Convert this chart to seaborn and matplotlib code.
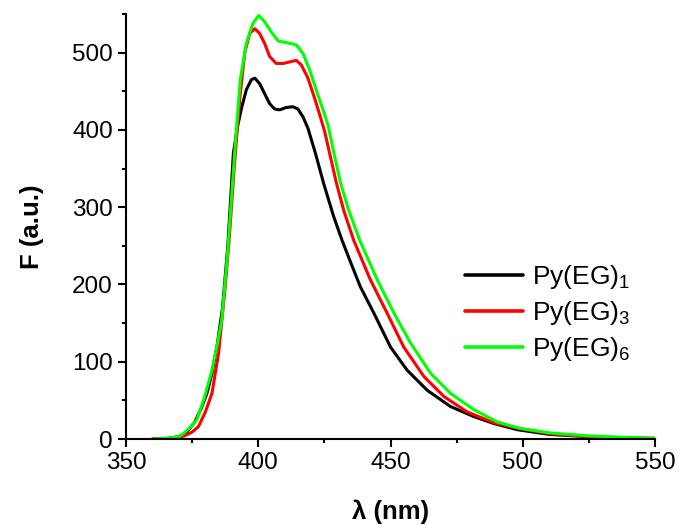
import matplotlib
matplotlib.use("Agg")
import matplotlib.pyplot as plt
from matplotlib.ticker import MultipleLocator
import pandas as pd
import seaborn as sns

# Emission spectra (wavelength in nm, fluorescence intensity in a.u.)
wl_eg1 = [360, 366, 370, 373, 376, 378.5, 380.6, 382.5, 384.5, 386.5, 388.5,
          390.6, 392.2, 393.8, 395.5, 397.4, 398.7, 400.5, 402.4, 404.3, 406.2,
          408.1, 410.6, 413.1, 415.0, 416.9, 418.8, 421.6, 424.7, 428.5, 431.7,
          435, 438.6, 443.7, 450, 456.3, 463.9, 472.7, 481.5, 489.1, 498,
          510, 525, 540, 550]
f_eg1 = [0, 1, 3, 9, 22, 40, 59, 85, 122, 170, 250,
         370, 405, 430, 452, 465, 467, 460, 447, 434, 427,
         426, 429, 430, 427, 417, 402, 370, 331, 288, 257,
         228, 197, 163, 119, 89, 63, 42, 29, 20, 12,
         6, 3, 1, 0.5]

wl_eg3 = [360, 365, 369, 372, 375, 377.4, 380, 382.5, 385, 387.5, 389,
          391, 393, 394.9, 396.8, 398.7, 400.5, 402.4, 404.3, 406.8, 409.4,
          411.9, 414.4, 416.3, 418.8, 421.4, 423.2, 425.1, 427.3, 429.5, 432.3,
          436.1, 442.4, 448.7, 455, 462.6, 470.2, 479, 489.1, 498, 510,
          525, 540, 550]
f_eg3 = [0, 0.3, 1, 4, 9, 16, 35, 59, 111, 197, 258,
         355, 440, 500, 525, 531, 525, 512, 495, 486, 486,
         488, 490, 484, 467, 440, 420, 398, 365, 332, 296,
         257, 206, 163, 119, 81, 55, 35, 21, 14, 7,
         3, 1.5, 1]

wl_eg6 = [360, 366, 370, 371.7, 374, 376.8, 379.5, 382.5, 384.5, 386.2, 388.4,
          390, 391.5, 393.2, 395.5, 398.0, 400.2, 402.4, 404.9, 407.5, 410.6,
          414.4, 416.9, 419.4, 421.9, 424.5, 426.4, 428.5, 431, 434.2, 438.4,
          445, 451.3, 457.6, 465.2, 472.7, 481.5, 490.4, 498.6, 510, 525,
          540, 550]
f_eg6 = [0, 1, 3, 7, 14, 25, 52, 89, 122, 154, 240,
         318, 390, 465, 512, 538, 548, 540, 527, 515, 513,
         510, 499, 478, 452, 426, 406, 372, 333, 296, 257,
         206, 163, 124, 85, 59, 38, 22, 14, 8, 4,
         2, 1]

series_names = ["Py(EG)1", "Py(EG)3", "Py(EG)6"]
series_labels = [r"$\mathregular{Py(EG)_1}$", r"$\mathregular{Py(EG)_3}$",
                 r"$\mathregular{Py(EG)_6}$"]
series_colors = ["#000000", "#ff0000", "#00ff00"]

x_ticks = [350, 400, 450, 500, 550]
y_ticks = [0, 100, 200, 300, 400, 500]

frames = []
for name, wl, f in zip(series_names, [wl_eg1, wl_eg3, wl_eg6], [f_eg1, f_eg3, f_eg6]):
    frames.append(pd.DataFrame({"wl": wl, "F": f, "sample": name}))
df = pd.concat(frames, ignore_index=True)

sns.set_theme(style="ticks")
plt.rcParams["font.family"] = ["Liberation Sans", "DejaVu Sans"]
plt.rcParams["mathtext.fontset"] = "custom"
plt.rcParams["mathtext.rm"] = "Liberation Sans"
plt.rcParams["text.color"] = "black"
plt.rcParams["axes.labelcolor"] = "black"
plt.rcParams["xtick.color"] = "black"
plt.rcParams["ytick.color"] = "black"

fig = plt.figure(figsize=(6.81, 5.25), dpi=100)
ax = fig.add_axes([126 / 681, 86 / 525, 529 / 681, 425 / 525])

sns.lineplot(data=df, x="wl", y="F", hue="sample", palette=series_colors,
             sort=False, estimator=None, linewidth=2.2, ax=ax, legend=False)
for line in ax.get_lines():
    line.set_solid_joinstyle("round")
    line.set_solid_capstyle("round")

ax.set_xlim(350, 550)
ax.set_ylim(0, 550)
ax.set_xticks(x_ticks)
ax.set_yticks(y_ticks)
ax.xaxis.set_minor_locator(MultipleLocator(25))
ax.yaxis.set_minor_locator(MultipleLocator(50))

for side in ["top", "right"]:
    ax.spines[side].set_visible(False)
for side in ["left", "bottom"]:
    ax.spines[side].set_linewidth(1.5)
    ax.spines[side].set_color("black")

ax.tick_params(which="major", length=6, width=1.5, labelsize=17.5, pad=3.5)
ax.tick_params(which="minor", length=3, width=1.5)

ax.set_xlabel("λ (nm)", fontsize=18.5, fontweight="bold", labelpad=18)
ax.set_ylabel("F (a.u.)", fontsize=18.5, fontweight="bold", labelpad=20)

handles = [plt.Line2D([], [], color=c, linewidth=2.6) for c in series_colors]
ax.legend(handles, series_labels, loc="upper left",
          bbox_to_anchor=(0.641, 0.414), frameon=False, fontsize=19,
          handlelength=2.2, handletextpad=0.35, labelspacing=0.3,
          borderpad=0, borderaxespad=0)

fig.savefig("out.png", dpi=100)
